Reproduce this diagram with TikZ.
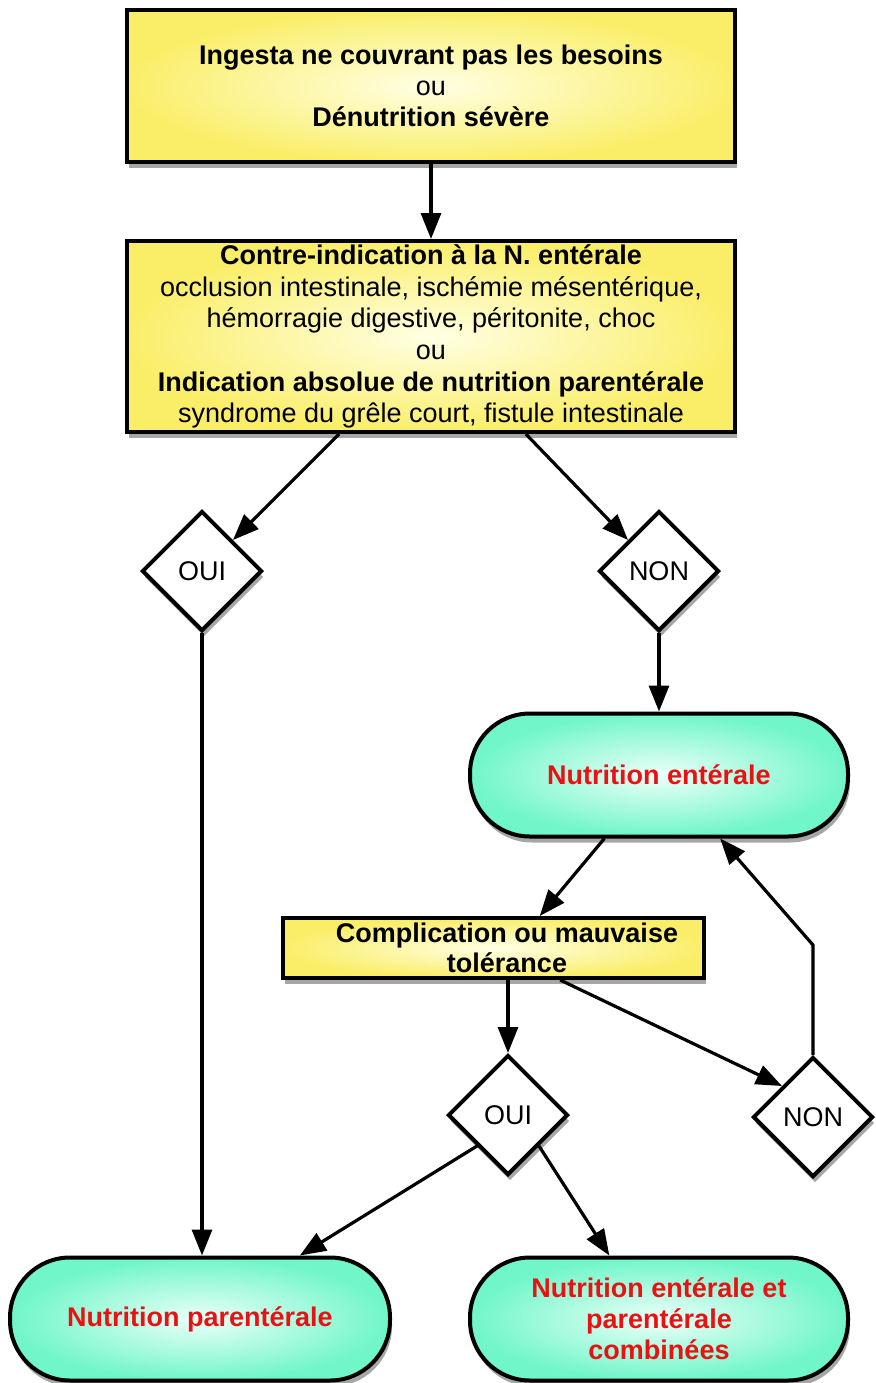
\documentclass[tikz,border=0pt]{standalone}
\usepackage{fontspec}
\setmainfont{Liberation Sans}
\usepackage{tikz}
\usetikzlibrary{shapes.geometric, arrows.meta, shadows, calc}
\definecolor{lineColor}{RGB}{0, 0, 0}
\definecolor{condOuter}{RGB}{250, 238, 105}
\definecolor{condInner}{RGB}{255, 255, 228}
\definecolor{resOuter}{RGB}{112, 246, 200}
\definecolor{resInner}{RGB}{236, 255, 250}
\definecolor{resText}{RGB}{232, 18, 18}
\tikzset{
    flow_font/.style={
        font=\fontsize{13.5}{15.6}\selectfont
    },
    flow_shadow/.style={
        drop shadow={shadow xshift=1pt, shadow yshift=-3pt, opacity=.35, fill=black}
    },
    cond_box/.style={
        rectangle,
        draw=lineColor,
        line width=2pt,
        inner color=condInner,
        outer color=condOuter,
        flow_shadow,
        inner sep=0pt,
        align=center,
        minimum width=304pt
    },
    choice_node/.style={
        diamond,
        draw=lineColor,
        line width=2pt,
        fill=white,
        flow_shadow,
        inner sep=0pt,
        minimum width=60pt,
        minimum height=60pt
    },
    result_node/.style={
        rectangle,
        rounded corners=30pt,
        draw=lineColor,
        line width=2pt,
        inner color=resInner,
        outer color=resOuter,
        flow_shadow,
        text=resText,
        font=\fontsize{13.5}{15.6}\selectfont\bfseries,
        align=center,
        minimum width=189pt,
        minimum height=61.5pt
    },
    flow_edge/.style={
        -{Triangle[length=13pt, width=10pt]},
        line width=1.6pt,
        draw=lineColor
    }
}
\begin{document}
\begin{tikzpicture}[x=0.5pt, y=-0.5pt, flow_font]
    \useasboundingbox (0,0) rectangle (875,1383);

    \node[cond_box, minimum height=76pt] (need) at (431,86)
        {\textbf{Ingesta ne couvrant pas les besoins}\\ ou\\ \textbf{Dénutrition sévère}};
    \node[cond_box, minimum height=95.5pt, font=\fontsize{13.5}{15.8}\selectfont] (contra) at (431,336.5)
        {\textbf{Contre-indication à la N. entérale}\\
         occlusion intestinale, ischémie mésentérique,\\
         hémorragie digestive, péritonite, choc\\
         ou\\
         \textbf{Indication absolue de nutrition parentérale}\\
         syndrome du grêle court, fistule intestinale};

    \node[choice_node] (yesA) at (202,571) {OUI};
    \node[choice_node] (noA) at (659,571) {NON};

    \node[result_node] (enteral) at (659,775) {Nutrition entérale};

    \node[cond_box, minimum width=210.5pt, minimum height=30pt, font=\fontsize{13.5}{15}\selectfont\bfseries] (tolerance) at (493,948)
        {\hspace*{14pt}Complication ou mauvaise\\ \hspace*{14pt}tolérance};

    \node[choice_node] (yesB) at (508,1115) {OUI};
    \node[choice_node] (noB) at (813,1117) {NON};

    \node[result_node, minimum width=190pt] (parenteral) at (200,1319) {Nutrition parentérale};
    \node[result_node] (combined) at (659,1319) {Nutrition entérale et\\ parentérale\\ combinées};

    \coordinate (loopBend) at (813,945);

    \draw[flow_edge] (need.south) -- (contra.north);
    \draw[flow_edge] ($(contra.south west)!0.35!(contra.south east)$) -- (yesA.north east);
    \draw[flow_edge] ($(contra.south west)!0.655!(contra.south east)$) -- (noA.north west);
    \draw[flow_edge] (noA.south) -- (enteral.north);
    \draw[flow_edge] ($(enteral.south west)!0.357!(enteral.south east)$) -- ($(tolerance.north west)!0.61!(tolerance.north east)$);
    \draw[flow_edge] (noB.north) -- (loopBend) -- ($(enteral.south west)!0.66!(enteral.south east)$);
    \draw[flow_edge] (tolerance.south -| yesB.north) -- (yesB.north);
    \draw[flow_edge] ($(tolerance.south west)!0.658!(tolerance.south east)$) -- (noB.north west);
    \draw[flow_edge] (yesA.south) -- (yesA.south |- parenteral.north);
    \draw[flow_edge] (yesB.south west) -- ($(parenteral.north west)!0.76!(parenteral.north east)$);
    \draw[flow_edge] (yesB.south east) -- ($(combined.north west)!0.37!(combined.north east)$);
\end{tikzpicture}
\end{document}
